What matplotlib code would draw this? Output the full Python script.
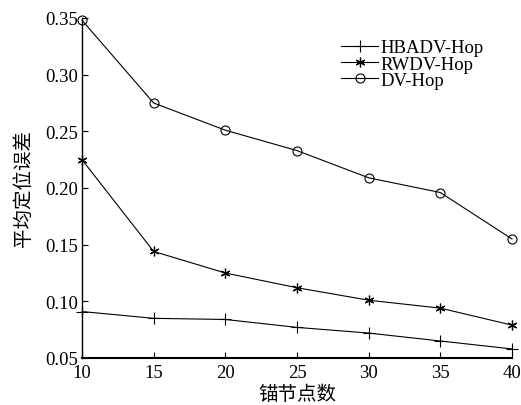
import matplotlib.pyplot as plt

# 锚节点数 / 平均定位误差
anchors = [10, 15, 20, 25, 30, 35, 40]
hbadv_hop = [0.091, 0.085, 0.084, 0.077, 0.072, 0.065, 0.058]
rwdv_hop = [0.225, 0.144, 0.125, 0.112, 0.101, 0.094, 0.079]
dv_hop = [0.348, 0.275, 0.251, 0.233, 0.209, 0.196, 0.155]

serif = ['Liberation Serif', 'DejaVu Serif']
cjk = ['Noto Sans CJK SC', 'DejaVu Sans']

fig = plt.figure(figsize=(5.21, 4.06), dpi=100)
ax = fig.add_axes([82 / 521, 1 - 359 / 406, (512 - 82) / 521, (359 - 19) / 406])

ax.plot(anchors, hbadv_hop, color='black', lw=0.8, marker='+', ms=8, mew=0.8,
        label='HBADV-Hop', clip_on=False)
ax.plot(anchors, rwdv_hop, color='black', lw=0.8, marker=(6, 2, 0), ms=7, mew=0.9,
        label='RWDV-Hop', clip_on=False)
ax.plot(anchors, dv_hop, color='black', lw=0.8, marker='o', ms=6.5, mfc='none', mew=0.8,
        label='DV-Hop', clip_on=False)

ax.set_xlim(10, 40)
ax.set_ylim(0.05, 0.35)
ax.set_xticks(anchors)
ax.set_yticks([0.05, 0.10, 0.15, 0.20, 0.25, 0.30, 0.35])
ax.set_yticklabels(['0.05', '0.10', '0.15', '0.20', '0.25', '0.30', '0.35'])
ax.spines['top'].set_visible(False)
ax.spines['right'].set_visible(False)
ax.spines['left'].set_linewidth(1.0)
ax.spines['bottom'].set_linewidth(1.5)
ax.tick_params(direction='in', length=4, width=0.8, labelsize=13.5, pad=3)
ax.tick_params(axis='x', pad=4)
for t in ax.get_xticklabels() + ax.get_yticklabels():
    t.set_family(serif)

ax.set_xlabel('锚节点数', family=cjk, fontsize=14, labelpad=2)
ax.set_ylabel('平均定位误差', family=cjk, fontsize=14, labelpad=8)

leg = ax.legend(loc='upper left', bbox_to_anchor=(0.58, 0.965), frameon=False,
                prop={'family': serif, 'size': 13.5}, handlelength=2.0,
                handletextpad=0.1, labelspacing=-0.05, borderpad=0)

fig.savefig('out.png', dpi=100)
